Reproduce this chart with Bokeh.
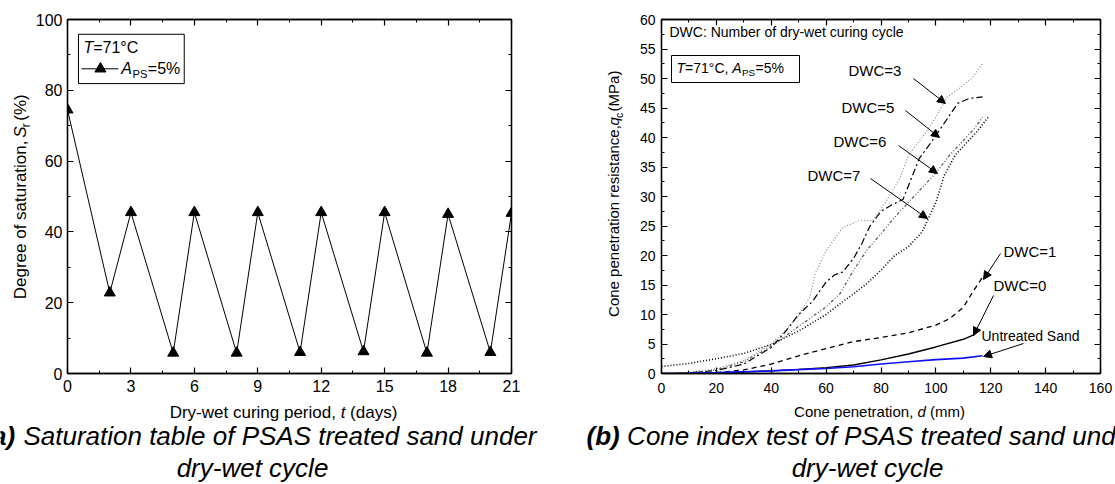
import math
from bokeh.plotting import figure
from bokeh.models import Range1d, FixedTicker, LinearAxis, Label, Arrow, NormalHead, BoxAnnotation
from bokeh.layouts import row, column
from bokeh.embed import file_html
from bokeh.resources import INLINE

FONT = "Liberation Sans"

# ---------------- data: (a) degree of saturation ----------------
days = [0, 2, 3, 5, 6, 8, 9, 11, 12, 14, 15, 17, 18, 20, 21]
saturation = [74.5, 22.8, 45.5, 5.8, 45.5, 5.8, 45.5, 6.0, 45.5, 6.2, 45.5, 5.8, 45.0, 6.0, 45.3]
a_xticks = [0, 3, 6, 9, 12, 15, 18, 21]
a_yticks = [0, 20, 40, 60, 80, 100]

# ---------------- data: (b) cone penetration ----------------
untreated_d = [0, 10, 20, 30, 40, 50, 60, 70, 80, 90, 100, 110, 117]
untreated_q = [0, 0.05, 0.15, 0.3, 0.45, 0.65, 0.85, 1.15, 1.6, 2.0, 2.35, 2.6, 3.0]

dwc0_d = [0, 10, 20, 30, 40, 50, 60, 70, 80, 90, 100, 110, 114]
dwc0_q = [0, 0.02, 0.1, 0.25, 0.45, 0.7, 1.0, 1.45, 2.3, 3.3, 4.5, 5.8, 6.6]

dwc1_d = [10, 20, 30, 40, 50, 60, 70, 80, 90, 100, 105, 110, 113, 117]
dwc1_q = [0, 0.15, 0.6, 1.6, 3.0, 4.2, 5.4, 6.1, 6.9, 8.2, 9.3, 11.2, 13.5, 16.3]

dwc3_d = [5, 10, 20, 30, 40, 45, 50, 54, 56, 60, 66, 72, 77, 82, 87, 90, 95, 100, 104, 109, 113, 117]
dwc3_q = [0, 0.2, 0.8, 2.2, 5.0, 7.2, 9.8, 12.9, 16.9, 20.8, 24.7, 25.9, 25.9, 29.3, 33.2, 37.0, 40.0, 43.4, 46.8, 48.5, 50.0, 52.5]

dwc5_d = [5, 10, 20, 30, 40, 45, 50, 55, 60, 63, 66, 70, 73, 76, 80, 84, 88, 91, 94, 98, 103, 108, 112, 117]
dwc5_q = [0, 0.1, 0.5, 1.6, 4.4, 7.0, 10.0, 12.2, 15.5, 16.7, 17.2, 19.5, 22.0, 25.0, 27.5, 28.6, 29.5, 33.0, 36.5, 39.0, 42.4, 45.8, 46.6, 46.9]

dwc6_d = [5, 10, 20, 30, 40, 50, 60, 65, 70, 75, 80, 85, 90, 95, 100, 105, 110, 114, 117]
dwc6_q = [0, 0.1, 0.6, 2.0, 4.6, 8.0, 11.3, 13.5, 17.5, 21.0, 23.7, 26.5, 29.0, 31.5, 34.0, 37.0, 39.5, 41.5, 43.4]

dwc7_d = [0, 10, 20, 30, 40, 50, 60, 65, 70, 75, 80, 85, 90, 95, 100, 103, 107, 110, 115, 119]
dwc7_q = [1.2, 1.7, 2.5, 3.4, 4.9, 7.2, 10.0, 11.8, 13.5, 15.3, 17.5, 20.0, 21.5, 24.0, 29.0, 33.5, 37.0, 38.5, 41.0, 43.4]

b_xticks = [0, 20, 40, 60, 80, 100, 120, 140, 160]
b_yticks = [0, 5, 10, 15, 20, 25, 30, 35, 40, 45, 50, 55, 60]

# ---------------- text helpers ----------------
W = dict(zip("abcdefghijklmnopqrstuvwxyz",
             [556, 556, 500, 556, 556, 278, 556, 556, 222, 222, 500, 222, 833, 556, 556, 556, 556, 333, 500,
              278, 556, 500, 722, 500, 500, 500]))
W.update(zip("ABCDEFGHIJKLMNOPQRSTUVWXYZ",
             [667, 667, 722, 722, 667, 611, 778, 722, 278, 500, 667, 556, 833, 722, 778, 667, 778, 722, 667,
              611, 722, 667, 944, 667, 667, 611]))
W.update({c: 556 for c in "0123456789"})
W.update({" ": 278, ",": 278, ".": 278, "(": 333, ")": 333, "-": 333, "=": 584, "%": 889, ":": 278, "°": 400})


def tw(s, size, style):
    f = 1.06 if "b" in style else 1.0
    return sum(W.get(c, 556) for c in s) / 1000.0 * size * f


class Geo:
    """window pixel -> data coordinate conversion for a frame"""
    def __init__(self, fl, fr, ft, fb, x0, x1, y0, y1):
        self.fl, self.fr, self.ft, self.fb = fl, fr, ft, fb
        self.x0, self.x1, self.y0, self.y1 = x0, x1, y0, y1

    def dx(self, wx):
        return self.x0 + (wx - self.fl) / (self.fr - self.fl) * (self.x1 - self.x0)

    def dy(self, wy):
        return self.y0 + (self.fb - wy) / (self.fb - self.ft) * (self.y1 - self.y0)


class Ident:
    def dx(self, wx):
        return wx

    def dy(self, wy):
        return wy


STYLE = {"n": "normal", "i": "italic", "b": "bold", "bi": "bold italic", "sub": "normal"}


def rich(p, g, runs, wx, wy, size, align="left", vertical=False, color="black"):
    """runs of differently styled text; (wx, wy) = start (or centre) along the text, glyph centre across it"""
    sizes = [size * 0.7 if st == "sub" else size for _, st in runs]
    widths = [tw(t, s, st) for (t, st), s in zip(runs, sizes)]
    total = sum(widths)
    cum = -total / 2.0 if align == "center" else 0.0
    for (t, st), s, w in zip(runs, sizes, widths):
        body = t.strip()
        lead = tw(t[:len(t) - len(t.lstrip())], s, st)
        bw = tw(body, s, st)
        off = (0.24 * size + 0.36 * (size - s)) if st == "sub" else 0.0
        if body:
            if vertical:
                x, y, ang = wx + off, wy - (cum + lead + bw / 2.0), math.pi / 2
            else:
                x, y, ang = wx + cum + lead + bw / 2.0, wy + off, 0.0
            p.add_layout(Label(x=g.dx(x), y=g.dy(y), text=body, angle=ang, text_font=FONT,
                               text_font_size=f"{s:.1f}px", text_font_style=STYLE[st],
                               text_align="center", text_baseline="middle", text_color=color))
        cum += w


def style_axis(ax, ticks, minor, size, standoff, labels=True):
    ax.ticker = FixedTicker(ticks=ticks, minor_ticks=minor)
    ax.major_tick_in = 6
    ax.major_tick_out = 0
    ax.minor_tick_in = 3
    ax.minor_tick_out = 0
    ax.axis_line_color = "black"
    ax.axis_line_width = 1.3
    ax.major_tick_line_color = "black"
    ax.minor_tick_line_color = "black"
    ax.major_tick_line_width = 1.2
    ax.minor_tick_line_width = 1.0
    ax.major_label_text_font = FONT
    ax.major_label_text_color = "black"
    if labels:
        ax.major_label_text_font_size = f"{size}px"
        ax.major_label_standoff = standoff
    else:
        ax.major_label_text_font_size = "0px"
        ax.major_label_standoff = 0
        ax.major_label_overrides = {t: "" for t in ticks}


def make_fig(width, height, xr, yr, bl, br, bt, bb):
    p = figure(width=width, height=height, x_range=Range1d(*xr), y_range=Range1d(*yr),
               output_backend="svg", toolbar_location=None,
               min_border_left=bl, min_border_right=br, min_border_top=bt, min_border_bottom=bb)
    p.xgrid.visible = False
    p.ygrid.visible = False
    p.outline_line_color = "black"
    p.outline_line_width = 1.3
    p.outline_line_alpha = 1.0
    p.background_fill_color = "white"
    p.border_fill_color = "white"
    p.add_layout(LinearAxis(), "above")
    p.add_layout(LinearAxis(), "right")
    return p


def text_fig(x0, x1, y0, y1):
    """a blank figure whose data space equals window pixels (y downward)"""
    f = figure(width=x1 - x0, height=y1 - y0, x_range=Range1d(x0, x1), y_range=Range1d(y1, y0),
               x_axis_type=None, y_axis_type=None, output_backend="svg", toolbar_location=None,
               min_border=0, min_border_left=0, min_border_right=0, min_border_top=0, min_border_bottom=0)
    f.outline_line_color = None
    f.background_fill_color = "white"
    f.border_fill_color = "white"
    f.xgrid.visible = False
    f.ygrid.visible = False
    return f


TOP_H = 400
ID = Ident()

# ================= (a) =================
ya = text_fig(0, 32, 0, TOP_H)
pa = make_fig(583 - 32, TOP_H, (0, 21), (0, 100), 66 - 32, 583 - 511, 16, TOP_H - 375)
ga = Geo(66, 511, 16, 375, 0, 21, 0, 100)
a_xminor = [i * 1.5 for i in range(15)]
a_yminor = list(range(0, 101, 10))
style_axis(pa.below[0], a_xticks, a_xminor, 16, 6)
style_axis(pa.above[0], a_xticks, a_xminor, 16, 0, labels=False)
style_axis(pa.left[0], a_yticks, a_yminor, 16, 5)
style_axis(pa.right[0], a_yticks, a_yminor, 16, 0, labels=False)

pa.line(days, saturation, line_color="black", line_width=1.0)
pa.scatter(days, saturation, marker="triangle", size=11, fill_color="black", line_color="black")

# legend box
pa.add_layout(BoxAnnotation(left=ga.dx(77), right=ga.dx(183), top=ga.dy(31), bottom=ga.dy(81),
                            fill_alpha=0, line_color="black", line_alpha=1, line_width=1))
pa.line([ga.dx(80), ga.dx(117)], [ga.dy(66), ga.dy(66)], line_color="black", line_width=1.0)
pa.scatter([ga.dx(99)], [ga.dy(66)], marker="triangle", size=11, fill_color="black", line_color="black")
rich(pa, ga, [("T", "i"), ("=71°C", "n")], 82, 44.5, 16)
rich(pa, ga, [("A", "i"), ("PS", "sub"), ("=5%", "n")], 120, 66, 16)

rich(ya, ID, [("Degree of saturation,   ", "n"), ("S", "i"), ("r", "sub"), (" (%)", "n")], 20, 196, 17,
     align="center", vertical=True)

bxa = text_fig(0, 583, TOP_H, 484)
rich(bxa, ID, [("Dry-wet curing period, ", "n"), ("t", "i"), (" (days)", "n")], 283, 412, 17, align="center")
rich(bxa, ID, [("(a)", "bi"), (" Saturation table of PSAS treated sand under", "i")], 259, 435, 26, align="center")
rich(bxa, ID, [("dry-wet cycle", "i")], 252, 467, 26, align="center")

# ================= (b) =================
yb = text_fig(583, 630, 0, TOP_H)
pb = make_fig(1115 - 630, TOP_H, (0, 160), (0, 60), 661 - 630, 1115 - 1100, 19, TOP_H - 373)
gb = Geo(661, 1100, 19, 373, 0, 160, 0, 60)
b_xminor = list(range(0, 161, 10))
b_yminor = [i * 2.5 for i in range(25)]
style_axis(pb.below[0], b_xticks, b_xminor, 14, 9)
style_axis(pb.above[0], b_xticks, b_xminor, 14, 0, labels=False)
style_axis(pb.left[0], b_yticks, b_yminor, 14, 6)
style_axis(pb.right[0], b_yticks, b_yminor, 14, 0, labels=False)

series = [
    (dwc3_d, dwc3_q, "#8a8a8a", "1 2", 1.2),
    (dwc5_d, dwc5_q, "black", "7 3 2 3", 1.2),
    (dwc6_d, dwc6_q, "#555555", "3 2 1 2 1 2", 1.2),
    (dwc7_d, dwc7_q, "black", "1 2", 1.6),
    (dwc1_d, dwc1_q, "black", "5 4", 1.3),
    (dwc0_d, dwc0_q, "black", "solid", 1.4),
    (untreated_d, untreated_q, "#1010ff", "solid", 1.6),
]
for d, q, c, dash, lw in series:
    pb.line(d, q, line_color=c, line_dash=dash, line_width=lw)

rich(pb, gb, [("DWC: Number of dry-wet curing cycle", "n")], 669, 31, 14)
pb.add_layout(BoxAnnotation(left=gb.dx(671), right=gb.dx(799), top=gb.dy(55), bottom=gb.dy(82),
                            fill_alpha=0, line_color="black", line_alpha=1, line_width=1))
rich(pb, gb, [("T", "i"), ("=71°C, ", "n"), ("A", "i"), ("PS", "sub"), ("=5%", "n")], 676, 67, 14)

labels_b = [
    ("DWC=3", 848, 70, (913, 78, 945, 103)),
    ("DWC=5", 841, 107, (905, 110, 939, 137)),
    ("DWC=6", 833, 140.5, (898, 145, 937, 173)),
    ("DWC=7", 807, 175, (870, 178, 927, 218)),
    ("DWC=1", 1003, 250.5, (1000, 253, 983, 279)),
    ("DWC=0", 993, 285, (993, 295, 973, 335)),
]
for txt, lx, ly, (x0, y0, x1, y1) in labels_b:
    rich(pb, gb, [(txt, "n")], lx, ly, 15)
    pb.add_layout(Arrow(end=NormalHead(size=8, fill_color="black", line_color="black"),
                        x_start=gb.dx(x0), y_start=gb.dy(y0), x_end=gb.dx(x1), y_end=gb.dy(y1),
                        line_color="black", line_width=1))
rich(pb, gb, [("Untreated Sand", "n")], 981, 335, 14)
pb.add_layout(Arrow(end=NormalHead(size=8, fill_color="black", line_color="black"),
                    x_start=gb.dx(1023), y_start=gb.dy(343), x_end=gb.dx(983), y_end=gb.dy(356),
                    line_color="black", line_width=1))

rich(yb, ID, [("Cone penetration resistance,   ", "n"), ("q", "i"), ("c", "sub"), (" (MPa)", "n")], 613, 192, 15,
     align="center", vertical=True)

bxb = text_fig(583, 1115, TOP_H, 484)
rich(bxb, ID, [("Cone penetration, ", "n"), ("d", "i"), (" (mm)", "n")], 879, 411, 15, align="center")
rich(bxb, ID, [("(b)", "bi"), (" Cone index test of PSAS treated sand under", "i")], 862, 435, 26, align="center")
rich(bxb, ID, [("dry-wet cycle", "i")], 867, 467, 26, align="center")

layout = column(row(ya, pa, yb, pb), row(bxa, bxb))
open("out.html", "w").write(file_html(layout, INLINE))
